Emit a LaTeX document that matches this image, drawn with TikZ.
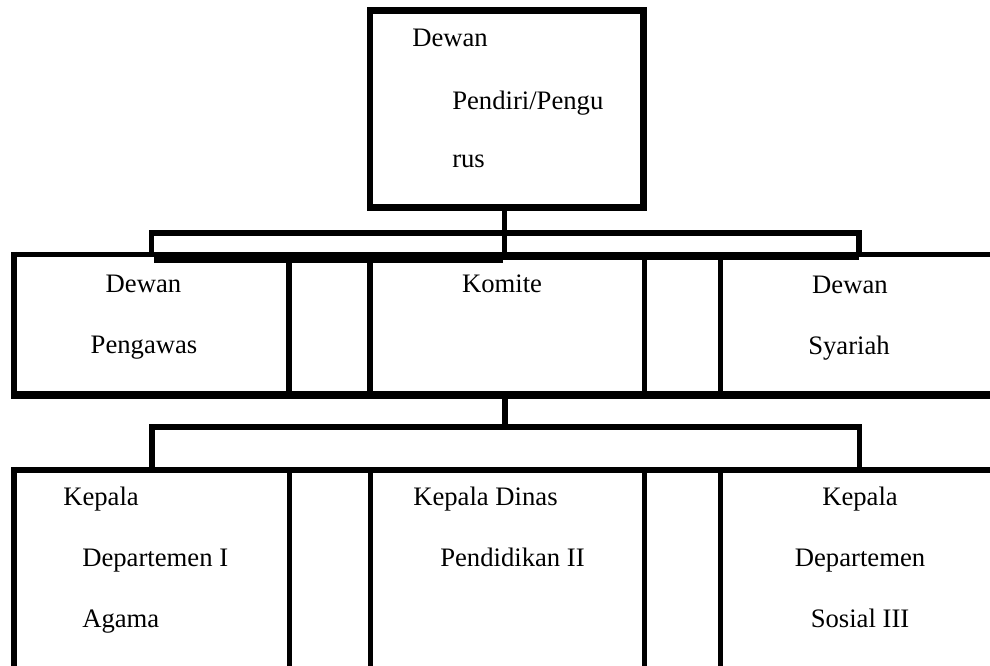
\documentclass[tikz,border=0pt]{standalone}
\usepackage{fontspec}
\setmainfont{Liberation Serif}
\begin{document}
\begin{tikzpicture}[x=0.75pt,y=-0.75pt,
  line/.style={line width=4.2pt,line cap=rect},
  thickline/.style={line width=6pt},
  lbl/.style={inner sep=0pt,font=\fontsize{20pt}{24pt}\selectfont},
  lblw/.style={lbl,anchor=base west},
  lblc/.style={lbl,anchor=base}]
\useasboundingbox (0,0) rectangle (990,666);
\clip (0,0) rectangle (990,666);
% top box
\node[draw,line width=4.9pt,minimum width=273.5*0.75pt,minimum height=197*0.75pt,inner sep=0pt] (top) at (506.75,109) {};
% connector to first bracket
\coordinate (b1) at (504.5,233);
\draw[line] (top.south -| b1) -- (504.5,257);
% first bracket
\coordinate (b1l) at (151.5,257);
\coordinate (b1r) at (859,257);
\draw[line,line cap=butt] (b1l) -- (151.5,233) -- (859,233) -- (b1r);
\fill (154,252) rectangle (503,263);
\fill (503,252) rectangle (859,260);
% middle row
\draw[line,line cap=butt] (11,254.5) -- (990,254.5);
\draw[line,line cap=butt] (14,252) -- (14,399);
\foreach \x/\n in {289/m1,370/m2,644.5/m3,720.5/m4}{
  \draw[line,line cap=butt] (\x,254.5) -- (\x,395);
}
\draw[thickline] (11,395) -- (990,395);
\coordinate (m) at (505,399);
\coordinate (b2) at (505,427);
\draw[line,line cap=butt] (m) -- (b2);
% second bracket
\draw[line,line cap=butt] (152,472) -- (152,427) -- (859.5,427) -- (859.5,472);
% bottom row
\draw[line,line cap=butt] (11,470) -- (990,470);
\draw[line,line cap=butt] (14,467) -- (14,666);
\foreach \x in {289.5,370.5,644.5,720.5}{
  \draw[line,line cap=butt] (\x,470) -- (\x,666);
}
% texts
\node[lblw] (t1) at (412,47) {Dewan};
\node[lblw] (t2) at (452,110) {Pendiri/Pengu};
\node[lblw] (t3) at (452,168) {rus};
\node[lblc] (p1) at (143.5,293) {Dewan};
\node[lblc] (p2) at (144,354) {Pengawas};
\node[lblc] (k1) at (502,293) {Komite};
\node[lblc] (s1) at (850,294) {Dewan};
\node[lblc] (s2) at (849,355) {Syariah};
\node[lblw] (a1) at (63,506) {Kepala};
\node[lblw] (a2) at (82,567) {Departemen I};
\node[lblw] (a3) at (82,628) {Agama};
\node[lblw] (d1) at (413,506) {Kepala Dinas};
\node[lblw] (d2) at (440,567) {Pendidikan II};
\node[lblc] (c1) at (860,506) {Kepala};
\node[lblc] (c2) at (860,567) {Departemen};
\node[lblc] (c3) at (860,628) {Sosial III};
\end{tikzpicture}
\end{document}
